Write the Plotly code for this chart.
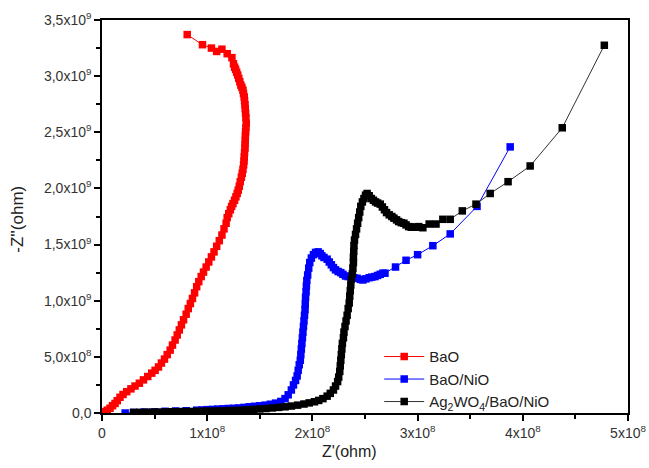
import numpy as np
import plotly.graph_objects as go

# Z' in units of 1e8 ohm, -Z'' in units of 1e9 ohm
bao_x = [0.81, 0.955, 1.04, 1.09, 1.14, 1.19, 1.235, 1.25, 1.26, 1.27, 1.28, 1.29, 1.30, 1.31, 1.32, 1.33,
         1.34, 1.345, 1.352, 1.355, 1.359, 1.362, 1.365, 1.368, 1.371, 1.368, 1.365, 1.363, 1.362, 1.36,
         1.359, 1.355, 1.352, 1.35, 1.346, 1.34, 1.333, 1.325, 1.314, 1.305, 1.295, 1.285, 1.273, 1.26,
         1.245, 1.232, 1.22, 1.205, 1.19, 1.18, 1.16, 1.14, 1.115, 1.09, 1.065, 1.04, 1.015, 0.99, 0.965,
         0.943, 0.92, 0.90, 0.88, 0.86, 0.84, 0.82, 0.80, 0.775, 0.755, 0.735, 0.715, 0.695, 0.67, 0.648,
         0.62, 0.594, 0.565, 0.537, 0.505, 0.473, 0.435, 0.394, 0.355, 0.314, 0.275, 0.235, 0.20, 0.171,
         0.145, 0.124, 0.10, 0.076, 0.05, 0.02, 0.0]
bao_y = [3.37, 3.28, 3.25, 3.22, 3.24, 3.20, 3.165, 3.11, 3.08, 3.06, 3.035, 3.01, 2.98, 2.95, 2.92, 2.90,
         2.875, 2.845, 2.815, 2.78, 2.745, 2.71, 2.67, 2.63, 2.58, 2.54, 2.505, 2.47, 2.43, 2.395,
         2.36, 2.32, 2.28, 2.245, 2.21, 2.17, 2.135, 2.10, 2.06, 2.02, 1.985, 1.955, 1.925, 1.895,
         1.865, 1.84, 1.81, 1.775, 1.74, 1.69, 1.64, 1.585, 1.535, 1.485, 1.435, 1.39, 1.345, 1.30, 1.255,
         1.215, 1.17, 1.125, 1.07, 1.02, 0.975, 0.93, 0.88, 0.83, 0.785, 0.74, 0.695, 0.65, 0.605, 0.56,
         0.52, 0.48, 0.445, 0.41, 0.38, 0.355, 0.325, 0.295, 0.265, 0.24, 0.215, 0.19, 0.165, 0.14,
         0.11, 0.085, 0.065, 0.042, 0.025, 0.012, 0.0]

nio_x = [0.22, 0.3, 0.4, 0.5, 0.6, 0.7, 0.8, 0.9, 0.95, 1.0, 1.05, 1.1, 1.15, 1.2, 1.25, 1.3, 1.35, 1.4,
         1.45, 1.5, 1.55, 1.6, 1.65, 1.7, 1.74, 1.77, 1.8, 1.82, 1.84, 1.855, 1.865, 1.875, 1.885, 1.89,
         1.895, 1.9, 1.905, 1.91, 1.915, 1.92, 1.925, 1.93, 1.932, 1.935, 1.94, 1.943, 1.947, 1.955, 1.965,
         1.975, 1.99, 2.01, 2.03, 2.055, 2.075, 2.09, 2.11, 2.14, 2.16, 2.18, 2.2, 2.22, 2.245, 2.27, 2.29,
         2.315, 2.34, 2.365, 2.395, 2.425, 2.455, 2.48, 2.51, 2.54, 2.565, 2.595, 2.62, 2.645, 2.67, 2.69,
         2.79, 2.89, 3.0, 3.145, 3.31, 3.565, 3.88]
nio_y = [0.0, 0.005, 0.008, 0.01, 0.015, 0.018, 0.02, 0.025, 0.027, 0.03, 0.032, 0.035, 0.037, 0.04, 0.042,
         0.045, 0.05, 0.055, 0.06, 0.064, 0.07, 0.078, 0.088, 0.103, 0.128, 0.162, 0.205, 0.25, 0.29, 0.33,
         0.38, 0.43, 0.47, 0.52, 0.57, 0.62, 0.67, 0.72, 0.77, 0.82, 0.87, 0.92, 0.97, 1.03, 1.08, 1.13,
         1.18, 1.23, 1.29, 1.34, 1.38, 1.41, 1.43, 1.435, 1.42, 1.40, 1.385, 1.37, 1.345, 1.32, 1.295,
         1.275, 1.26, 1.25, 1.235, 1.22, 1.215, 1.212, 1.205, 1.20, 1.19, 1.185, 1.195, 1.205, 1.21, 1.215,
         1.225, 1.235, 1.245, 1.245, 1.30, 1.36, 1.41, 1.49, 1.595, 1.84, 2.37]

ag_x = [0.30, 0.36, 0.42, 0.48, 0.54, 0.60, 0.66, 0.72, 0.78, 0.84, 0.90, 0.96, 1.02, 1.08, 1.14, 1.20,
        1.26, 1.32, 1.38, 1.44, 1.50, 1.56, 1.62, 1.68, 1.74, 1.80, 1.86, 1.92, 1.97, 2.02, 2.06, 2.10,
        2.14, 2.17, 2.20, 2.22, 2.24, 2.25, 2.26, 2.265, 2.27, 2.275, 2.28, 2.285, 2.295, 2.30, 2.31,
        2.32, 2.33, 2.34, 2.35, 2.355, 2.36, 2.365, 2.37, 2.38, 2.385, 2.39, 2.39, 2.393, 2.395, 2.40,
        2.41, 2.42, 2.43, 2.44, 2.45, 2.46, 2.475, 2.49, 2.505, 2.52, 2.54, 2.56, 2.58, 2.60, 2.62, 2.645,
        2.665, 2.685, 2.705, 2.73, 2.755, 2.775, 2.80, 2.82, 2.845, 2.87, 2.89, 2.915, 2.94, 2.965, 2.99,
        3.01, 3.05, 3.11, 3.175, 3.24, 3.31, 3.425, 3.555, 3.69, 3.86, 4.07, 4.375, 4.775]
ag_y = [0.005, 0.006, 0.007, 0.008, 0.009, 0.01, 0.011, 0.012, 0.013, 0.014, 0.015, 0.016, 0.017, 0.018,
        0.019, 0.021, 0.023, 0.025, 0.028, 0.032, 0.036, 0.04, 0.045, 0.05, 0.055, 0.062, 0.07, 0.08, 0.09,
        0.10, 0.112, 0.128, 0.15, 0.175, 0.205, 0.24, 0.28, 0.32, 0.37, 0.42, 0.47, 0.52, 0.57, 0.62, 0.67,
        0.72, 0.77, 0.82, 0.87, 0.93, 0.98, 1.04, 1.09, 1.14, 1.19, 1.24, 1.29, 1.34, 1.39, 1.44, 1.49,
        1.54, 1.59, 1.64, 1.69, 1.74, 1.79, 1.84, 1.88, 1.91, 1.94, 1.955, 1.935, 1.91, 1.895, 1.88, 1.87,
        1.86, 1.835, 1.81, 1.785, 1.765, 1.75, 1.735, 1.72, 1.705, 1.695, 1.69, 1.675, 1.66, 1.655, 1.655,
        1.655, 1.66, 1.65, 1.683, 1.683, 1.725, 1.725, 1.80, 1.86, 1.955, 2.06, 2.20, 2.54, 3.275]

x_tickvals = [0, 1e8, 2e8, 3e8, 4e8, 5e8]
x_ticktext = ["0", "1x10<sup>8</sup>", "2x10<sup>8</sup>", "3x10<sup>8</sup>", "4x10<sup>8</sup>", "5x10<sup>8</sup>"]
y_tickvals = [0, 5e8, 1e9, 1.5e9, 2e9, 2.5e9, 3e9, 3.5e9]
y_ticktext = ["0,0", "5,0x10<sup>8</sup>", "1,0x10<sup>9</sup>", "1,5x10<sup>9</sup>", "2,0x10<sup>9</sup>",
              "2,5x10<sup>9</sup>", "3,0x10<sup>9</sup>", "3,5x10<sup>9</sup>"]
x_title = "Z'(ohm)"
y_title = "-Z''(ohm)"

series = [
    ("BaO", bao_x, bao_y, "#ff0000", "#ff0000"),
    ("BaO/NiO", nio_x, nio_y, "#0000ff", "#0000ff"),
    ("Ag<sub>2</sub>WO<sub>4</sub>/BaO/NiO", ag_x, ag_y, "#333333", "#000000"),
]

FONT = "Liberation Sans, Arial"

fig = go.Figure()
for name, xs, ys, lc, mc in series:
    fig.add_trace(go.Scatter(
        x=np.array(xs) * 1e8, y=np.array(ys) * 1e9, name=name, mode="lines+markers",
        line=dict(color=lc, width=1),
        marker=dict(symbol="square", size=7.5, color=mc, line=dict(width=0)),
    ))

axis_common = dict(
    showline=True, linecolor="black", linewidth=1.5, mirror=True,
    ticks="outside", ticklen=6, tickwidth=1.5, tickcolor="black",
    showgrid=False, zeroline=False, automargin=False,
    tickfont=dict(family=FONT, size=14, color="#333333"),
)

fig.update_layout(
    width=649, height=468,
    margin=dict(l=102, r=21, t=20, b=55),
    paper_bgcolor="white", plot_bgcolor="white",
    showlegend=True,
    legend=dict(x=0.527, y=0.185, xanchor="left", yanchor="top",
                font=dict(family=FONT, size=15, color="#222222"),
                bgcolor="rgba(0,0,0,0)", itemwidth=40),
    xaxis=dict(range=[0, 5e8], tickvals=x_tickvals, ticktext=x_ticktext,
               minor=dict(dtick=5e7, ticks="outside", ticklen=4, tickwidth=1.5, tickcolor="black"),
               **axis_common),
    yaxis=dict(range=[0, 3.5e9], tickvals=y_tickvals, ticktext=y_ticktext,
               minor=dict(dtick=2.5e8, ticks="outside", ticklen=4, tickwidth=1.5, tickcolor="black"),
               **axis_common),
    annotations=[
        dict(text=x_title, xref="paper", yref="paper", x=0.47, y=-0.099, xanchor="center", yanchor="middle",
             showarrow=False, font=dict(family=FONT, size=16, color="#222222")),
        dict(text=y_title, xref="paper", yref="paper", x=-0.160, y=0.494, xanchor="center", yanchor="middle",
             textangle=-90, showarrow=False, font=dict(family=FONT, size=17, color="#222222")),
    ],
)

fig.write_html("out.html", config={"displayModeBar": False},
               post_script="document.body.style.margin='0px';")
